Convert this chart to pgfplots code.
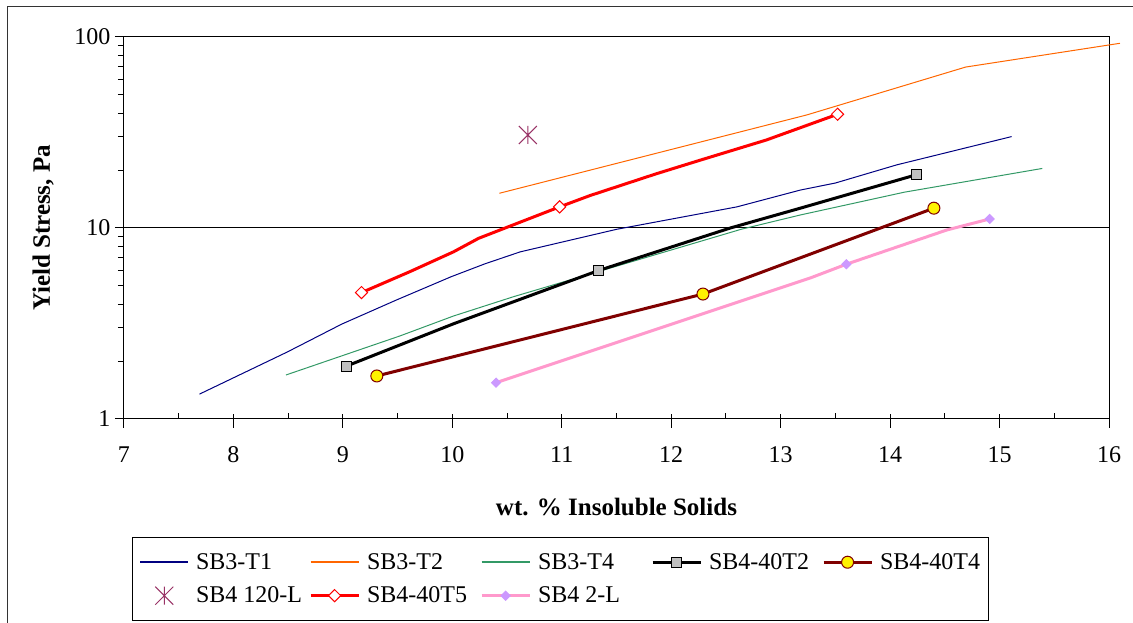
\documentclass[border=0pt]{standalone}
\usepackage{pgfplots}
\pgfplotsset{compat=1.18}
\usepackage{fontspec}
\setmainfont{Liberation Serif}
\definecolor{cT1}{RGB}{0,0,128}
\definecolor{cT2}{RGB}{255,102,0}
\definecolor{cT4}{RGB}{51,153,102}
\definecolor{cDR}{RGB}{128,0,0}
\definecolor{cPur}{RGB}{153,51,102}
\definecolor{cPink}{RGB}{255,153,204}
\definecolor{cLav}{RGB}{204,153,255}
\definecolor{cGray}{RGB}{192,192,192}
\pgfdeclareplotmark{xstar}{%
  \pgfpathmoveto{\pgfqpoint{-\pgfplotmarksize}{-\pgfplotmarksize}}%
  \pgfpathlineto{\pgfqpoint{\pgfplotmarksize}{\pgfplotmarksize}}%
  \pgfpathmoveto{\pgfqpoint{-\pgfplotmarksize}{\pgfplotmarksize}}%
  \pgfpathlineto{\pgfqpoint{\pgfplotmarksize}{-\pgfplotmarksize}}%
  \pgfpathmoveto{\pgfqpoint{0pt}{-\pgfplotmarksize}}%
  \pgfpathlineto{\pgfqpoint{0pt}{\pgfplotmarksize}}%
  \pgfusepathqstroke}
\newcommand{\LE}[1]{\makebox[116pt][l]{\hspace{5pt}#1}}
\newcommand{\LEL}[1]{\makebox[104pt][l]{\hspace{5pt}#1}}
\begin{document}
\begin{tikzpicture}
\path[use as bounding box] (0,0) rectangle (1133pt,623pt);
\draw[line width=1pt, black!80] (7pt,-20pt) -- (7pt,616pt) -- (1150pt,616pt);
\begin{axis}[
  at={(124pt,204pt)}, anchor=south west,
  scale only axis, width=985pt, height=382pt,
  xmin=7, xmax=16, ymode=log, ymin=1, ymax=100,
  xtick={7,8,...,16}, minor x tick num=1,
  ytick={1,10,100},
  log ticks with fixed point,
  /pgf/number format/assume math mode=true,
  tick pos=left,
  tick align=inside,
  major tick length=14pt, minor tick length=6pt,
  every major y tick/.append style={xshift=-9pt},
  every minor y tick/.append style={xshift=-6pt},
  every major x tick/.append style={yshift=-9pt},
  tick style={black, line width=1pt},
  axis line style={line width=1pt},
  ymajorgrids, grid style={black, line width=1pt},
  clip=false,
  ticklabel style={font=\fontsize{24}{29}\selectfont},
  yticklabel style={xshift=-10pt},
  xticklabel style={yshift=-24pt},
  xlabel={wt. \% Insoluble Solids},
  ylabel={Yield Stress, Pa},
  label style={font=\bfseries\fontsize{25}{30}\selectfont},
  xlabel style={at={(axis description cs:0.5,-0.2304)}, anchor=center},
  ylabel style={at={(axis description cs:-0.0822,0.5)}, anchor=center},
  legend columns=5,
  legend cell align=left,
  legend style={at={(axis description cs:0.00812,-0.3089)}, anchor=north west,
    draw=black, line width=1pt, font=\fontsize{24}{29}\selectfont,
    inner xsep=7pt, inner ysep=14pt, row sep=12pt, column sep=0pt},
  legend image code/.code={\draw[mark repeat=2,mark phase=2,#1] plot coordinates {(0pt,0pt) (24pt,0pt) (48pt,0pt)};},
]
% SB3-T1
\addplot[forget plot, cT1, line width=1pt, no markers] coordinates {
(7.69,1.35) (8.49,2.24) (8.99,3.14) (9.49,4.2) (9.99,5.56) (10.3,6.5) (10.62,7.5) (11.5,9.84) (12.6,12.9) (13.18,15.8) (13.5,17.2) (14.06,21.4) (15.11,30.1)};
% SB3-T2
\addplot[forget plot, cT2, line width=1pt, no markers] coordinates {
(10.43,15.2) (13.24,39.1) (14.69,69.6) (16.1,92.7)};
% SB3-T4
\addplot[forget plot, cT4, line width=1pt, no markers] coordinates {
(8.48,1.70) (9.52,2.72) (10.01,3.46) (10.56,4.37) (10.92,5.03) (12.64,9.85) (13.18,11.7) (14.13,15.4) (15.39,20.5)};
% SB4-40T2
\addplot[forget plot, black, line width=3pt, mark=square*, mark indices={1,3,6}, mark size=5pt,
  mark options={fill=cGray, draw=black, line width=1pt, solid}] coordinates {
(9.03,1.89) (10.01,3.15) (11.34,6.0) (12.54,10.0) (13.18,12.7) (14.24,19.0)};
% SB4-40T4
\addplot[forget plot, cDR, line width=3pt, mark=*, mark size=6pt,
  mark options={fill=yellow, draw=cDR, line width=1pt}] coordinates {
(9.31,1.68) (12.29,4.51) (14.4,12.7)};
% SB4 120-L
\addplot[forget plot, only marks, cPur, mark=xstar, mark size=9pt, line width=1pt] coordinates {
(10.69,30.7)};
% SB4-40T5
\addplot[forget plot, red, line width=3pt, mark=square*, mark indices={1,5,10}, mark size=4.3pt,
  mark options={rotate=45, fill=white, draw=red, line width=1pt}] coordinates {
(9.17,4.59) (9.61,5.9) (10.01,7.5) (10.24,8.83) (10.98,12.9) (11.26,14.8) (11.86,19.2) (12.27,22.7) (12.87,28.9) (13.52,39.4)};
% SB4 2-L
\addplot[forget plot, cPink, line width=3pt, mark=square*, mark indices={1,3,5}, mark size=3.2pt,
  mark options={rotate=45, fill=cLav, draw=cLav, line width=1pt}] coordinates {
(10.40,1.55) (13.28,5.5) (13.6,6.46) (14.52,9.77) (14.91,11.15)};

\addlegendimage{draw=cT1, line width=1.6pt, no markers}
\addlegendentry{\LE{SB3-T1}}
\addlegendimage{draw=cT2, line width=1.6pt, no markers}
\addlegendentry{\LE{SB3-T2}}
\addlegendimage{draw=cT4, line width=1.6pt, no markers}
\addlegendentry{\LE{SB3-T4}}
\addlegendimage{draw=black, line width=3pt, mark=square*, mark size=5pt, mark options={fill=cGray, draw=black, line width=1pt}}
\addlegendentry{\LE{SB4-40T2}}
\addlegendimage{draw=cDR, line width=3pt, mark=*, mark size=6pt, mark options={fill=yellow, draw=cDR, line width=1pt}}
\addlegendentry{\LEL{SB4-40T4}}
\addlegendimage{only marks, draw=cPur, mark=xstar, mark size=9pt, line width=1pt}
\addlegendentry{\LE{SB4 120-L}}
\addlegendimage{draw=red, line width=3pt, mark=square*, mark size=4.3pt, mark options={rotate=45, fill=white, draw=red, line width=1pt}}
\addlegendentry{\LE{SB4-40T5}}
\addlegendimage{draw=cPink, line width=3pt, mark=square*, mark size=3.2pt, mark options={rotate=45, fill=cLav, draw=cLav, line width=1pt}}
\addlegendentry{\LE{SB4 2-L}}
\end{axis}
\end{tikzpicture}
\end{document}
